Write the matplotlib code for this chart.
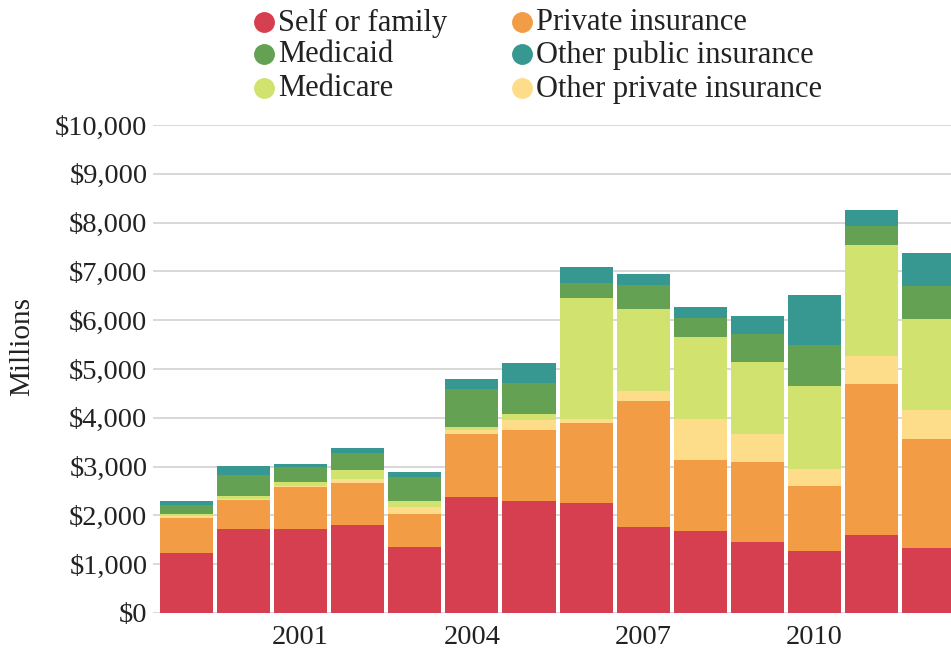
import matplotlib
matplotlib.use("Agg")
import matplotlib.pyplot as plt
from matplotlib.lines import Line2D
from matplotlib.ticker import FuncFormatter
import numpy as np

years = list(range(1999, 2013))
self_family = [1237, 1729, 1729, 1811, 1347, 2386, 2303, 2262, 1770, 1688, 1461, 1276, 1604, 1338]
private_ins = [704, 581, 848, 862, 690, 1291, 1456, 1641, 2584, 1456, 1638, 1332, 3092, 2232]
other_private = [41, 34, 34, 82, 143, 82, 205, 82, 205, 841, 573, 348, 574, 594]
medicare = [55, 62, 82, 184, 123, 62, 123, 2461, 1661, 1661, 1475, 1699, 2273, 1863]
medicaid = [171, 431, 308, 349, 493, 765, 616, 314, 499, 390, 573, 840, 389, 676]
other_public = [96, 184, 61, 102, 102, 219, 410, 321, 219, 225, 369, 1024, 327, 676]

series = [
    ("Self or family", self_family, "#D63F4F"),
    ("Private insurance", private_ins, "#F29D45"),
    ("Other private insurance", other_private, "#FEDD8A"),
    ("Medicare", medicare, "#D1E26E"),
    ("Medicaid", medicaid, "#64A153"),
    ("Other public insurance", other_public, "#369890"),
]
colors = {name: c for name, _, c in series}

xtick_years = [2001, 2004, 2007, 2010]
yticks = list(range(0, 10001, 1000))

FONT = "Liberation Serif"
plt.rcParams["font.family"] = [FONT, "DejaVu Serif"]

fig = plt.figure(figsize=(9.51, 6.51), dpi=100)
ax = fig.add_axes([153/951, 38/651, 1 - 153/951, 488/651])

x = np.arange(len(years))
bottom = np.zeros(len(years))
for name, vals, c in series:
    v = np.array(vals, dtype=float)
    ax.bar(x, v, bottom=bottom, width=0.93, color=c, linewidth=0, zorder=2)
    bottom += v

ax.set_xlim(-0.587, 13.394)
ax.set_ylim(0, 10000)
ax.set_yticks(yticks)
ax.yaxis.set_major_formatter(FuncFormatter(lambda v, p: "${:,.0f}".format(v)))
ax.set_xticks([years.index(y) for y in xtick_years])
ax.set_xticklabels([str(y) for y in xtick_years])
ax.tick_params(axis="both", length=0, colors="#222222")
ax.tick_params(axis="y", pad=4, labelsize=20.5)
ax.tick_params(axis="x", pad=9, labelsize=20.5)
ax.grid(axis="y", color="#d2d2d2", linewidth=1.2, zorder=0)
ax.set_axisbelow(True)
for s in ax.spines.values():
    s.set_visible(False)

fig.text(22/951, 1 - 347/651, "Millions", rotation=90, ha="center", va="center",
         fontsize=21, color="#222222")

# legend
legend_layout = [
    ("Self or family", 264, 22), ("Medicaid", 264, 54), ("Medicare", 264, 88),
    ("Private insurance", 522, 22), ("Other public insurance", 522, 54),
    ("Other private insurance", 522, 88),
]
for name, cx, cy in legend_layout:
    fig.add_artist(Line2D([cx/951], [1 - cy/651], marker="o", markersize=14,
                          color=colors[name], linestyle="none",
                          transform=fig.transFigure))
    fig.text((cx + 14)/951, 1 - (cy + 1)/651, name, ha="left", va="center",
             fontsize=22, color="#222222")

fig.savefig("out.png", dpi=100)
